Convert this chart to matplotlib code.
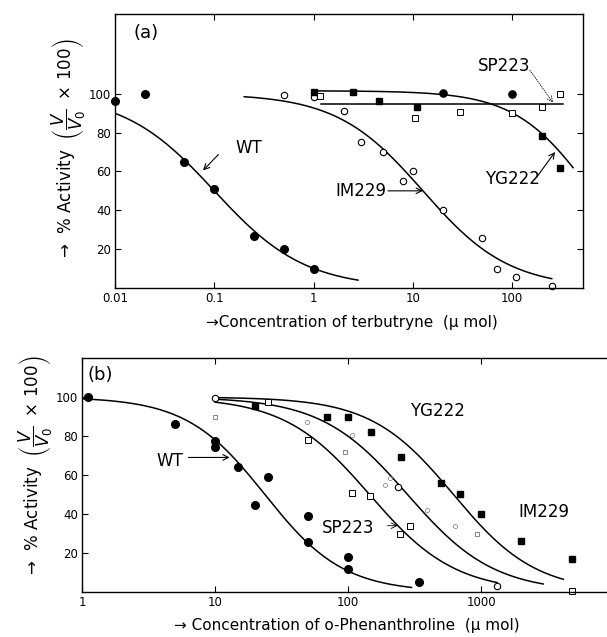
import numpy as np
import matplotlib
matplotlib.use("Agg")
import matplotlib.pyplot as plt
from matplotlib import font_manager

# pick a narrow sans if there is one, otherwise DejaVu a bit smaller
names = {f.name for f in font_manager.fontManager.ttflist}
if "Liberation Sans Narrow" in names:
    FONT = ["Liberation Sans Narrow", "DejaVu Sans"]
    scale = 1.15
else:
    FONT = ["DejaVu Sans"]
    scale = 1.0
plt.rcParams["font.family"] = FONT
plt.rcParams["mathtext.fontset"] = "dejavusans"

# ---------------- panel (a): terbutryne ----------------
a_wt_x = [0.01, 0.02, 0.05, 0.1, 0.25, 0.5, 1]
a_wt_y = [96, 100, 65, 51, 27, 20, 10]

a_im_x = [0.5, 1, 2, 3, 5, 8, 10, 20, 50, 70, 110, 250]
a_im_y = [99.5, 98.5, 91, 75, 70, 55, 60, 40, 25.6, 10, 5.6, 1]

a_yg_x = [1, 2.5, 4.6, 11, 200, 300]
a_yg_y = [101, 101, 96, 93, 78, 62]
a_yg_round_x = [20, 100]
a_yg_round_y = [100.5, 100]

a_sp_x = [1.15, 10.5, 30, 100, 200, 300]
a_sp_y = [99, 87.7, 90.8, 90.3, 93.3, 100]
a_sp_level = 94.5
a_sp_range = [1.2, 325]

# fitted dose-response curves: top, IC50, slope, x-from, x-to
a_curves = {
    "WT": (100, 0.1, 0.95, 0.01, 2.8),
    "IM229": (100, 12.6, 1.0, 0.2, 250),
    "YG222": (101.5, 605, 1.15, 1, 410),
}

# ---------------- panel (b): o-phenanthroline ----------------
b_wt_x = [1.1, 5, 10, 10, 15, 20, 25, 50, 50, 100, 100, 340]
b_wt_y = [100, 86, 77.5, 74.5, 64, 44.5, 59, 39, 25.5, 18, 12, 5]

b_yg_x = [20, 70, 100, 150, 250, 500, 700, 1000, 2000, 4800]
b_yg_y = [95.5, 90, 90, 82, 69, 56, 50.5, 40, 26, 17]

b_im_x = [10, 237, 1320]
b_im_y = [99.5, 54, 3]

b_sp_x = [25, 50, 107, 147, 245, 292, 4800]
b_sp_y = [97.5, 78, 51, 49, 29.6, 34, 0.5]

# faint, half-printed symbols
b_faint_sq_x = [10, 95, 930]
b_faint_sq_y = [90, 72, 29.6]
b_faint_ci_x = [49, 107, 190, 207, 390, 640]
b_faint_ci_y = [87, 80.6, 55, 58.7, 42, 33.7]

b_curves = {
    "WT": (100, 23.7, 1.47, 1, 300),
    "SP223": (100, 145, 1.35, 10, 1320),
    "IM229": (100, 280, 1.34, 10, 2930),
    "YG222": (100, 620, 1.4, 10, 4150),
}


def hill(params):
    top, ic50, n, x0, x1 = params
    x = np.logspace(np.log10(x0), np.log10(x1), 200)
    return x, top / (1 + (x / ic50) ** n)


fig = plt.figure(figsize=(6.07, 6.37), dpi=100)
W, H = 607, 637
axa = fig.add_axes([115 / W, (H - 288) / H, 468 / W, 274 / H])
axb = fig.add_axes([82 / W, (H - 592) / H, 525 / W, 234 / H])

LW = 1.1
tick_fs = 8.5 * scale
lab_fs = 11 * scale
txt_fs = 12 * scale


def style(ax):
    ax.set_xscale("log")
    ax.tick_params(which="major", direction="in", length=4, width=0.8,
                   labelsize=tick_fs, top=True, pad=3)
    ax.tick_params(which="minor", length=0)
    for s in ax.spines.values():
        s.set_linewidth(1.0)


# panel (a)
style(axa)
axa.tick_params(right=True)
axa.set_xlim(0.01, 516)
axa.set_ylim(0, 141)
axa.set_xticks([0.01, 0.1, 1, 10, 100])
axa.set_xticklabels(["0.01", "0.1", "1", "10", "100"])
axa.set_yticks([20, 40, 60, 80, 100])

for key, p in a_curves.items():
    cx, cy = hill(p)
    axa.plot(cx, cy, color="black", lw=LW)
axa.plot(a_sp_range, [a_sp_level, a_sp_level], color="black", lw=LW)

axa.plot(a_wt_x, a_wt_y, "o", color="black", ms=5.5, clip_on=False)
axa.plot(a_im_x, a_im_y, "o", mfc="white", mec="black", mew=0.8, ms=4.6, clip_on=False)
axa.plot(a_yg_x, a_yg_y, "s", color="black", ms=4.3)
axa.plot(a_yg_round_x, a_yg_round_y, "o", color="black", ms=5.2)
axa.plot(a_sp_x, a_sp_y, "s", mfc="white", mec="black", mew=0.7, ms=3.8)

arr = dict(arrowstyle="->", color="black", lw=0.8, shrinkA=0, shrinkB=0)
axa.text(0.04, 0.93, "(a)", transform=axa.transAxes, fontsize=txt_fs + 1, va="center")
axa.text(0.162, 72, "WT", fontsize=txt_fs, va="center")
axa.annotate("", xy=(0.077, 60.5), xytext=(0.11, 68.7), arrowprops=arr)
axa.text(1.64, 49.7, "IM229", fontsize=txt_fs, va="center")
axa.annotate("", xy=(12.6, 50), xytext=(5.6, 50), arrowprops=arr)
axa.text(53, 56, "YG222", fontsize=txt_fs, va="center")
axa.annotate("", xy=(270, 70), xytext=(176, 57), arrowprops=arr)
axa.text(45, 114, "SP223", fontsize=txt_fs, va="center")
axa.annotate("", xy=(257, 95.4), xytext=(151, 112),
             arrowprops=dict(arrowstyle="->", color="black", lw=0.6, ls=":",
                             shrinkA=0, shrinkB=0))

axa.set_xlabel("→Concentration of terbutryne  (μ mol)", fontsize=lab_fs)
axa.xaxis.set_label_coords(0.506, -0.100)
ylab = r"→  % Activity  $\left(\dfrac{V}{V_0}\ \times\,100\right)$"
axa.set_ylabel(ylab, fontsize=lab_fs + 1)
axa.yaxis.set_label_coords(-0.058, 0.51)

# panel (b)
style(axb)
axb.spines["right"].set_visible(False)
axb.set_xlim(1, 8850)
axb.set_ylim(0, 120)
axb.set_xticks([1, 10, 100, 1000])
axb.set_xticklabels(["1", "10", "100", "1000"])
axb.set_yticks([20, 40, 60, 80, 100])

for key, p in b_curves.items():
    cx, cy = hill(p)
    axb.plot(cx, cy, color="black", lw=LW)

axb.plot(b_wt_x, b_wt_y, "o", color="black", ms=5.5, clip_on=False)
axb.plot(b_yg_x, b_yg_y, "s", color="black", ms=4.3)
axb.plot(b_im_x, b_im_y, "o", mfc="white", mec="black", mew=0.8, ms=4.6)
axb.plot(b_sp_x, b_sp_y, "s", mfc="white", mec="black", mew=0.7, ms=3.8, clip_on=False)
axb.plot(b_faint_sq_x, b_faint_sq_y, "s", mfc="none", mec="#555555", mew=0.5, ms=3)
axb.plot(b_faint_ci_x, b_faint_ci_y, "o", mfc="none", mec="#777777", mew=0.5, ms=3)

axb.text(0.011, 0.927, "(b)", transform=axb.transAxes, fontsize=txt_fs + 1, va="center")
axb.text(3.65, 67, "WT", fontsize=txt_fs, va="center")
axb.annotate("", xy=(12.9, 69), xytext=(6.3, 69), arrowprops=arr)
axb.text(63.5, 33, "SP223", fontsize=txt_fs, va="center")
axb.annotate("", xy=(236, 34), xytext=(198, 34),
             arrowprops=dict(arrowstyle="->", color="black", lw=0.6,
                             shrinkA=0, shrinkB=0))
axb.text(293, 93, "YG222", fontsize=txt_fs, va="center")
axb.text(1900, 41, "IM229", fontsize=txt_fs, va="center")

axb.set_xlabel("→ Concentration of o-Phenanthroline  (μ mol)", fontsize=lab_fs)
axb.xaxis.set_label_coords(0.505, -0.110)
axb.set_ylabel(ylab, fontsize=lab_fs + 1)
axb.yaxis.set_label_coords(-0.052, 0.54)

fig.savefig("out.png", dpi=100)
